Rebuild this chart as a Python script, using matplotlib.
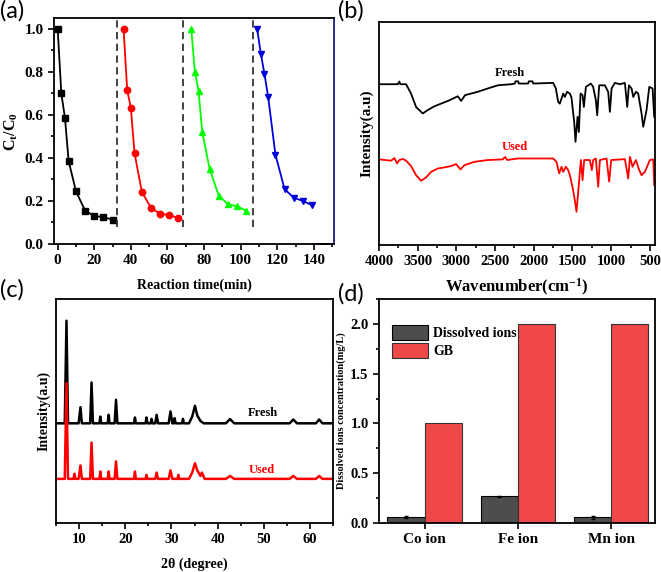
import matplotlib
matplotlib.use('Agg')
import matplotlib.pyplot as plt
from matplotlib.ticker import MultipleLocator, FixedLocator, FormatStrFormatter
import numpy as np

# ---------------- data ----------------
# (a) cycling
cycle1_t = [0, 2, 4, 6, 10, 15, 20, 25, 30]
cycle1_c = [1.0, 0.70, 0.585, 0.385, 0.245, 0.155, 0.13, 0.125, 0.113]
cycle2_t = [36, 38, 40, 42, 46, 51, 56, 61, 66]
cycle2_c = [1.0, 0.715, 0.632, 0.422, 0.243, 0.168, 0.14, 0.135, 0.12]
cycle3_t = [73, 75, 77, 79, 83, 88, 93, 98, 103]
cycle3_c = [1.0, 0.80, 0.71, 0.52, 0.35, 0.225, 0.185, 0.175, 0.155]
cycle4_t = [109, 111, 113, 115, 119, 124, 129, 134, 139]
cycle4_c = [1.0, 0.885, 0.79, 0.685, 0.415, 0.255, 0.215, 0.20, 0.18]
cycle_breaks = [32.3, 68.7, 106.5]

# (b) FTIR
fresh_wn = [4000, 3758, 3737, 3724, 3650, 3586, 3521, 3435, 3370, 3284, 3198, 3090, 2982, 2939, 2888,
            2724, 2594, 2465, 2293, 2245, 2237, 2202, 2194, 2073, 2064, 2017, 2008, 1750, 1715, 1685,
            1664, 1620, 1599, 1569, 1534, 1513, 1478, 1461, 1435, 1418, 1396, 1370, 1353, 1327, 1263,
            1233, 1198, 1181, 1155, 1082, 1039, 1017, 995, 952, 888, 823, 793, 771, 737, 715, 681, 651,
            608, 586, 543, 508, 465, 444]
fresh_ir = [72.1, 72.1, 73.3, 72.1, 72.1, 67.9, 61.9, 59.0, 60.5, 62.2, 63.4, 64.9, 66.7, 64.6, 67.2,
            68.7, 70.2, 71.6, 72.1, 72.4, 73.4, 73.4, 72.4, 72.4, 73.4, 73.4, 72.4, 72.7, 70.2, 64.2,
            63.4, 67.9, 66.4, 68.7, 67.9, 66.1, 55.2, 46.3, 57.5, 50.7, 67.9, 67.2, 61.9, 70.9, 72.4,
            70.9, 64.9, 58.2, 71.6, 71.6, 68.7, 59.7, 70.2, 72.7, 72.1, 72.7, 61.9, 71.6, 70.2, 66.4,
            68.7, 67.9, 59.0, 53.0, 60.5, 70.9, 70.2, 57.5]
used_wn = [4000, 3844, 3801, 3767, 3737, 3694, 3650, 3586, 3521, 3456, 3392, 3327, 3241, 3155, 3069,
           3004, 2948, 2896, 2767, 2595, 2401, 2370, 2344, 2207, 1750, 1707, 1672, 1642, 1620, 1586,
           1556, 1534, 1500, 1470, 1448, 1426, 1392, 1370, 1349, 1276, 1250, 1233, 1198, 1168, 1146,
           1060, 1026, 1000, 823, 780, 758, 724, 681, 638, 608, 565, 500, 457, 444]
used_ir = [38.4, 37.8, 39.0, 36.6, 38.1, 38.6, 37.8, 35.4, 31.3, 28.8, 30.3, 32.8, 34.3, 34.8, 35.4,
           36.3, 33.9, 35.8, 37.3, 38.1, 38.4, 39.5, 38.1, 38.8, 38.8, 37.3, 32.1, 35.1, 32.8, 35.1,
           33.6, 31.3, 26.1, 20.1, 14.9, 23.9, 38.1, 29.1, 38.1, 38.1, 33.6, 38.1, 38.8, 26.1, 38.1,
           38.8, 28.4, 38.1, 38.5, 29.8, 39.5, 35.1, 38.1, 33.6, 31.3, 32.8, 38.1, 38.4, 26.9]

# (c) XRD
fresh_2t = [5, 6.9, 7.27, 7.6, 9.9, 10.3, 10.6, 12.4, 12.7, 13.0, 14.4, 14.6, 14.8, 16.2, 16.4, 16.6,
            17.7, 18.0, 18.3, 21.9, 22.1, 22.3, 24.4, 24.6, 24.8, 25.5, 25.7, 25.9, 26.5, 26.8, 27.1,
            29.4, 29.8, 30.2, 30.5, 30.7, 30.9, 32.3, 32.5, 32.7, 33.8, 34.5, 35.1, 35.6, 36.3, 37.0,
            41.8, 42.7, 43.6, 55.6, 56.4, 57.2, 61.3, 62.0, 62.7, 65]
fresh_xrd = [44.5, 44.5, 90.3, 44.5, 44.5, 51.7, 44.5, 44.5, 62.7, 44.5, 44.5, 47.5, 44.5, 44.5, 48.3, 44.5,
             44.5, 55.0, 44.5, 44.5, 47.1, 44.5, 44.5, 47.1, 44.5, 44.5, 46.5, 44.5, 44.5, 48.3, 44.5,
             44.5, 49.8, 44.5, 44.5, 46.8, 44.5, 44.5, 46.5, 44.5, 44.5, 47.5, 52.3, 48.0, 45.5, 44.5,
             44.5, 46.4, 44.5, 44.5, 46.2, 44.5, 44.5, 46.2, 44.5, 44.5]
used_2t = [5, 6.9, 7.27, 7.6, 8.8, 9.0, 9.2, 9.9, 10.3, 10.6, 12.4, 12.7, 13.0, 14.4, 14.6, 14.8, 16.2,
           16.4, 16.6, 17.7, 18.0, 18.3, 21.9, 22.1, 22.3, 24.4, 24.6, 24.8, 26.5, 26.8, 27.1, 29.4,
           29.8, 30.2, 31.3, 31.5, 31.7, 33.8, 34.5, 35.1, 35.6, 36.3, 36.6, 37.2, 41.8, 42.7, 43.6,
           55.6, 56.4, 57.2, 61.3, 62.0, 62.7, 65]
used_xrd = [19.7, 19.7, 62.4, 19.7, 19.7, 22.0, 19.7, 19.7, 25.7, 19.7, 19.7, 35.9, 19.7, 19.7, 23.0, 19.7,
            19.7, 23.0, 19.7, 19.7, 27.5, 19.7, 19.7, 23.0, 19.7, 19.7, 21.5, 19.7, 19.7, 22.5, 19.7,
            19.7, 23.5, 19.7, 19.7, 21.5, 19.7, 19.7, 22.5, 26.7, 23.5, 21.0, 22.5, 19.7, 19.7, 21.0,
            19.7, 19.7, 21.0, 19.7, 19.7, 21.0, 19.7, 19.7]

# (d) dissolved ions
ions = ['Co ion', 'Fe ion', 'Mn ion']
dissolved = [0.06, 0.27, 0.06]
dissolved_err = [0.01, 0.005, 0.015]
gb_limit = [1.0, 2.0, 2.0]

# ---------------- style ----------------
plt.rcParams.update({
    'font.family': ['Liberation Serif', 'DejaVu Serif'],
    'font.weight': 'bold',
    'axes.labelweight': 'bold',
    'font.size': 10,
    'mathtext.fontset': 'custom',
    'mathtext.rm': 'Liberation Serif:bold',
    'mathtext.it': 'Liberation Serif:italic:bold',
    'mathtext.bf': 'Liberation Serif:bold',
    'axes.linewidth': 1.3,
})

fig = plt.figure(figsize=(6.61, 5.72), dpi=100)
W, H = 661.0, 572.0

def add_ax(x0, y0, x1, y1):
    return fig.add_axes([x0 / W, 1 - y1 / H, (x1 - x0) / W, (y1 - y0) / H])

def style_ticks(ax, yticks=True, size=10.5):
    ax.tick_params(which='both', direction='out', top=False, right=False, width=1.2, labelsize=size)
    ax.tick_params(which='major', length=4)
    ax.tick_params(which='minor', length=2.2)
    if not yticks:
        ax.tick_params(axis='y', which='both', left=False, labelleft=False)

# ---- (a)
axa = add_ax(54, 18, 334, 244)
axa.plot(cycle1_t, cycle1_c, '-s', color='black', ms=4.4, lw=1.3)
axa.plot(cycle2_t, cycle2_c, '-o', color='#ff0000', ms=4.6, lw=1.3)
axa.plot(cycle3_t, cycle3_c, '-^', color='#00ff00', ms=4.8, lw=1.3)
axa.plot(cycle4_t, cycle4_c, '-v', color='#0000d8', ms=4.8, lw=1.3)
axa.vlines(cycle_breaks, 0.08, 1.05, colors='#333333', linestyles=(0, (4, 2.5)), lw=1.3)
axa.set_xlim(-2, 151)
axa.set_ylim(0, 1.05)
axa.xaxis.set_major_locator(MultipleLocator(20))
axa.xaxis.set_minor_locator(MultipleLocator(10))
axa.yaxis.set_major_locator(MultipleLocator(0.2))
axa.yaxis.set_minor_locator(MultipleLocator(0.1))
axa.yaxis.set_major_formatter(FormatStrFormatter('%.1f'))
style_ticks(axa, size=11)
axa.spines['right'].set_color('#1a1a80')
axa.plot([0.925, 1.0], [0, 0], color='#1a1a80', lw=1.4, clip_on=False, transform=axa.transAxes)
axa.set_xlabel('Reaction time(min)', fontsize=10, labelpad=8)
axa.set_ylabel(r'$\mathrm{C_t/C_0}$', fontsize=11.5, labelpad=3)

# ---- (b)
axb = add_ax(379, 22, 655, 245)
axb.plot(fresh_wn, fresh_ir, color='black', lw=1.3)
axb.plot(used_wn, used_ir, color='#ff0000', lw=1.3)
axb.set_xlim(4000, 434)
axb.set_ylim(0, 100)
axb.xaxis.set_major_locator(FixedLocator([4000, 3500, 3000, 2500, 2000, 1500, 1000, 500]))
axb.xaxis.set_minor_locator(MultipleLocator(250))
style_ticks(axb, yticks=False)
axb.text(2310, 77.2, 'Fresh', ha='center', va='center', fontsize=9, color='black')
axb.text(2245, 43.8, 'Used', ha='center', va='center', fontsize=9, color='#ff0000')
axb.set_xlabel(r'Wavenumber(cm$^{-1}$)', fontsize=12, labelpad=6)
axb.set_ylabel('Intensity(a.u)', fontsize=11, labelpad=4)

# ---- (c)
axc = add_ax(56, 299, 333, 523)
axc.plot(fresh_2t, fresh_xrd, color='black', lw=1.8)
axc.plot(used_2t, used_xrd, color='#ff0000', lw=1.8)
axc.set_xlim(5, 65)
axc.set_ylim(0, 100)
axc.xaxis.set_major_locator(MultipleLocator(10))
axc.xaxis.set_minor_locator(MultipleLocator(5))
style_ticks(axc, yticks=False)
axc.text(49.9, 49.0, 'Fresh', ha='center', va='center', fontsize=9, color='black')
axc.text(49.5, 23.5, 'Used', ha='center', va='center', fontsize=9, color='#ff0000')
axc.set_xlabel('2θ (degree)', fontsize=10, labelpad=8)
axc.set_ylabel('Intensity(a.u)', fontsize=10, labelpad=4)

# ---- (d)
axd = add_ax(379, 299, 655, 523)
xpos = np.arange(len(ions))
bw = 0.4
axd.bar(xpos - bw / 2, dissolved, bw, yerr=dissolved_err, color='#4d4d4d', edgecolor='black',
        lw=0.8, error_kw=dict(ecolor='black', capsize=1.5, elinewidth=1), label='Dissolved ions')
axd.bar(xpos + bw / 2, gb_limit, bw, color='#f04848', edgecolor='#333333', lw=0.8, label='GB')
axd.set_xlim(-0.49, 2.47)
axd.set_ylim(0, 2.25)
axd.set_xticks(xpos)
axd.set_xticklabels(ions)
axd.yaxis.set_major_locator(MultipleLocator(0.5))
axd.yaxis.set_minor_locator(MultipleLocator(0.25))
axd.yaxis.set_major_formatter(FormatStrFormatter('%.1f'))
style_ticks(axd)
axd.tick_params(axis='x', labelsize=11)
axd.set_ylabel('Dissolved ions concentration(mg/L)', fontsize=7.5, labelpad=3)
axd.legend(loc='upper left', bbox_to_anchor=(0.0, 0.94), frameon=False, fontsize=10,
           handlelength=2.6, handleheight=1.3, handletextpad=0.4, labelspacing=0.2, borderaxespad=0.5)

# panel labels
for lbl, x, y in [('(a)', 0, 0), ('(b)', 338, 0), ('(c)', 0, 279), ('(d)', 338, 283)]:
    fig.text(x / W, 1 - y / H, lbl, ha='left', va='top', fontsize=17, family='Lato', weight='normal')

fig.savefig('out.png', dpi=100)
